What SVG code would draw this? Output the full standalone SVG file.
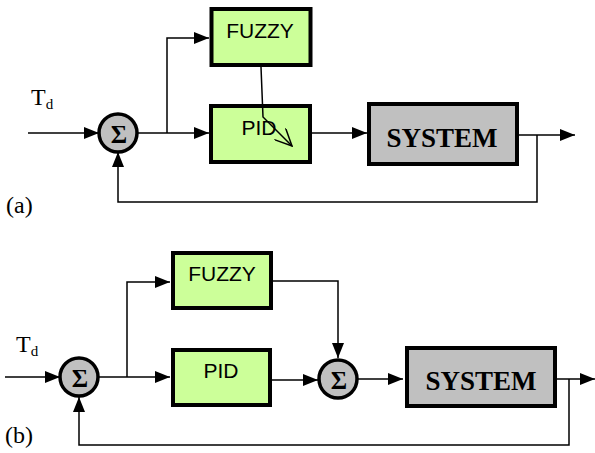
<svg xmlns="http://www.w3.org/2000/svg" width="595" height="453" viewBox="0 0 595 453">
<defs>
<marker id="ah" viewBox="0 0 15 12" refX="15" refY="6" markerWidth="15" markerHeight="12" markerUnits="userSpaceOnUse" orient="auto">
<path d="M0,0 L15,6 L0,12 Z" fill="#000"/>
</marker>
<marker id="open" viewBox="0 0 18 16" refX="17" refY="8" markerWidth="18" markerHeight="16" markerUnits="userSpaceOnUse" orient="auto">
<path d="M0,0 L17,8 L0,16" fill="none" stroke="#000" stroke-width="1.5"/>
</marker>
</defs>
<style>
.blk{fill:#ccff99;stroke:#000;stroke-width:4}
.sys{fill:#c0c0c0;stroke:#000;stroke-width:4}
.sum{fill:#c0c0c0;stroke:#000;stroke-width:3.5}
.ln{fill:none;stroke:#000;stroke-width:1.5}
.arr{marker-end:url(#ah)}
.lbl{font-family:"Liberation Sans",Arial,sans-serif;font-size:21px;text-anchor:middle}
.sl{font-family:"Liberation Serif","Times New Roman",serif;font-weight:bold;font-size:27px;text-anchor:middle}
.sg{font-family:"Liberation Serif","Times New Roman",serif;font-weight:bold;font-size:25px;text-anchor:middle}
.tx{font-family:"Liberation Serif","Times New Roman",serif;font-size:24px}
</style>
<g id="a-sum"><circle class="sum" cx="118" cy="133" r="19"/><text class="sg" x="119" y="143">Σ</text></g>
<g id="a-fuzzy"><rect class="blk" x="211.5" y="9" width="99" height="56"/><text class="lbl" x="260" y="38">FUZZY</text></g>
<g id="a-pid"><rect class="blk" x="211" y="106" width="99" height="56"/><text class="lbl" x="259" y="135">PID</text></g>
<g id="a-system"><rect class="sys" x="369" y="104" width="148" height="60"/><text class="sl" x="442" y="147">SYSTEM</text></g>
<g id="b-sum1"><circle class="sum" cx="79" cy="377" r="19"/><text class="sg" x="80" y="387">Σ</text></g>
<g id="b-fuzzy"><rect class="blk" x="173" y="253" width="98" height="55"/><text class="lbl" x="222" y="281">FUZZY</text></g>
<g id="b-pid"><rect class="blk" x="173" y="350" width="97" height="55"/><text class="lbl" x="221" y="378">PID</text></g>
<g id="b-sum2"><circle class="sum" cx="338" cy="379" r="19"/><text class="sg" x="339" y="389">Σ</text></g>
<g id="b-system"><rect class="sys" x="407" y="348" width="148" height="58"/><text class="sl" x="481" y="390">SYSTEM</text></g>
<g id="connectors">
<path class="ln arr" d="M28,133 H99"/>
<path class="ln arr" d="M137,133 H209"/>
<path class="ln arr" d="M167,133 V38 H209"/>
<path class="ln arr" d="M312,133 H367"/>
<path class="ln arr" d="M519,135 H575"/>
<path class="ln arr" d="M537,135 V202 H118 V152"/>
<path class="ln" d="M261,67 L263,117 L292,146" marker-end="url(#open)"/>
<path class="ln arr" d="M5,377 H60"/>
<path class="ln arr" d="M98,377 H170"/>
<path class="ln arr" d="M127,377 V282 H170"/>
<path class="ln arr" d="M273,281 H338 V358"/>
<path class="ln arr" d="M272,380 H318"/>
<path class="ln arr" d="M357,379 H403"/>
<path class="ln arr" d="M557,379 H595"/>
<path class="ln arr" d="M569,379 V445 H79 V397"/>
</g>
<g id="labels">
<text class="tx" x="31" y="105">T<tspan font-size="15" dy="4">d</tspan></text>
<text class="tx" x="6" y="213">(a)</text>
<text class="tx" x="16" y="352">T<tspan font-size="15" dy="4">d</tspan></text>
<text class="tx" x="5" y="443">(b)</text>
</g>
</svg>
